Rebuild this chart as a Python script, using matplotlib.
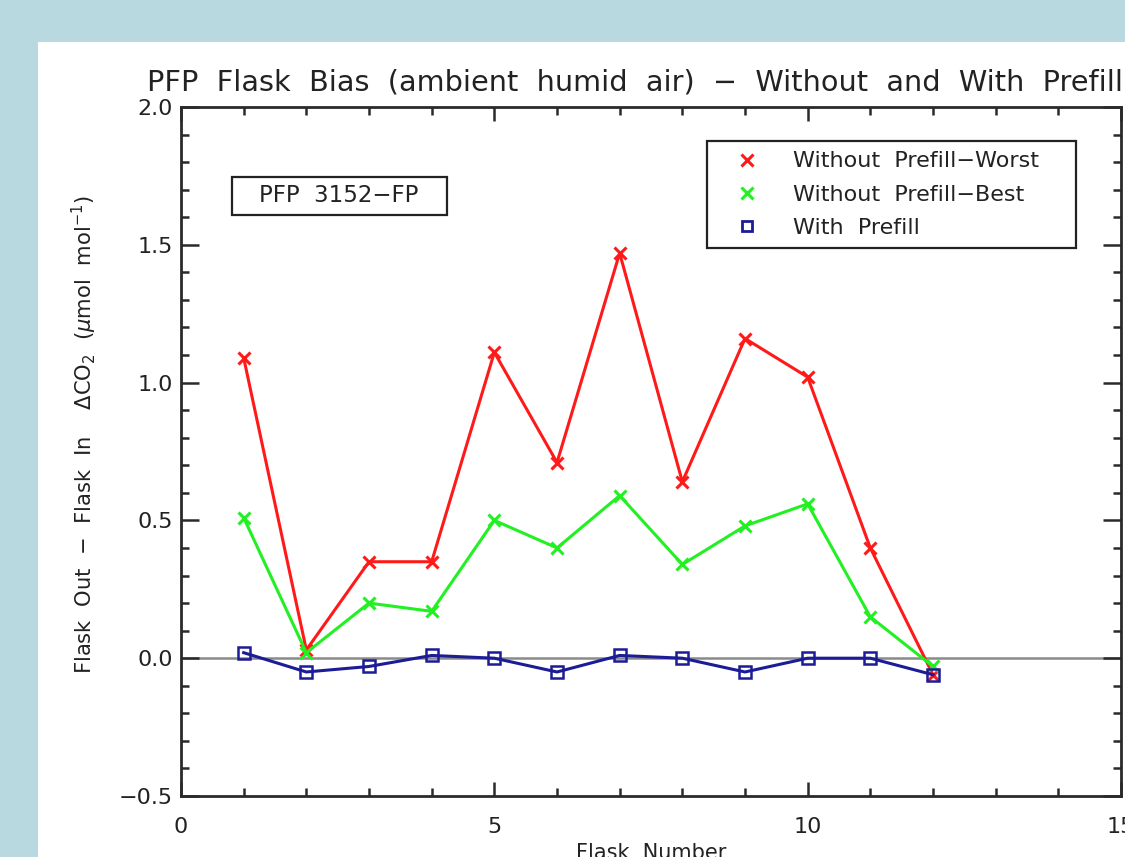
import matplotlib
matplotlib.use("Agg")
import matplotlib.pyplot as plt
from matplotlib.patches import Rectangle
from matplotlib.lines import Line2D
from matplotlib.ticker import MultipleLocator

# Flask bias data (CO2, umol/mol) per flask number
flask_number = [1, 2, 3, 4, 5, 6, 7, 8, 9, 10, 11, 12]
worst_no_prefill = [1.09, 0.03, 0.35, 0.35, 1.11, 0.71, 1.47, 0.64, 1.16, 1.02, 0.40, -0.06]
best_no_prefill = [0.51, 0.02, 0.20, 0.17, 0.50, 0.40, 0.59, 0.34, 0.48, 0.56, 0.15, -0.03]
with_prefill = [0.02, -0.05, -0.03, 0.01, 0.00, -0.05, 0.01, 0.00, -0.05, 0.00, 0.00, -0.06]

series_labels = ["Without  Prefill\u2212Worst", "Without  Prefill\u2212Best", "With  Prefill"]
x_ticks = [0, 5, 10, 15]
y_ticks = [-0.5, 0.0, 0.5, 1.0, 1.5, 2.0]

plt.rcParams['font.family'] = ['DejaVu Sans']

W, H = 1125, 857
fig = plt.figure(figsize=(W / 100, H / 100), dpi=100)
fig.patch.set_facecolor('#b8d9e0')

# white slide panel
fig.patches.append(Rectangle((38 / W, 0), 1 - 38 / W, (H - 42) / H,
                             transform=fig.transFigure, facecolor='white',
                             edgecolor='none', zorder=-5))

ax = fig.add_axes([181 / W, (H - 796) / H, (1121 - 181) / W, (796 - 107) / H])
ax.set_zorder(2)
ax.set_facecolor('white')

red = '#ff1a1a'
green = '#22f022'
blue = '#1c1c96'

ax.axhline(0, color='#8a8a8a', lw=1.8, zorder=1)
ax.plot(flask_number, worst_no_prefill, color=red, lw=2.2, marker='x',
        ms=9, mew=2.2, zorder=3)
ax.plot(flask_number, best_no_prefill, color=green, lw=2.2, marker='x',
        ms=9, mew=2.2, zorder=3)
ax.plot(flask_number, with_prefill, color=blue, lw=2.2, marker='s',
        ms=8.5, mew=1.8, mfc='none', zorder=4)

ax.set_xlim(0, 15)
ax.set_ylim(-0.5, 2.0)
ax.set_xticks(x_ticks)
ax.set_yticks(y_ticks)
ax.set_yticklabels(['\u22120.5', '0.0', '0.5', '1.0', '1.5', '2.0'])
ax.xaxis.set_minor_locator(MultipleLocator(1))
ax.yaxis.set_minor_locator(MultipleLocator(0.1))

for s in ax.spines.values():
    s.set_linewidth(2.0)
    s.set_color('#2a2a2a')

ax.tick_params(which='both', direction='in', top=True, right=True,
               color='#2a2a2a', width=1.8, labelsize=16, labelcolor='#222222')
ax.tick_params(axis='y', which='major', length=13, pad=6)
ax.tick_params(axis='y', which='minor', length=6)
ax.tick_params(axis='x', which='major', length=10, pad=15)
ax.tick_params(axis='x', which='minor', length=6)

ax.set_ylabel('Flask  Out  \u2212  Flask  In    \u0394CO$_2$  ($\\mu$mol  mol$^{-1}$)',
              fontsize=15.2, color='#222222')
ax.yaxis.set_label_coords(-0.087, 0.524)

fig.text(147 / W, (H - 83) / H,
         'PFP  Flask  Bias  (ambient  humid  air)  \u2212  Without  and  With  Prefill',
         fontsize=20.7, color='#222222', ha='left', va='center')
fig.text(651 / W, (H - 843) / H, 'Flask  Number', fontsize=15,
         color='#222222', ha='center', va='top')

# instrument label box
ax.add_patch(Rectangle(((232 - 181) / 940, (796 - 215) / 689), 215 / 940, 38 / 689,
                       transform=ax.transAxes, facecolor='white',
                       edgecolor='#222222', lw=1.6, zorder=5))
ax.text((339 - 181) / 940, (796 - 196) / 689, 'PFP  3152\u2212FP', transform=ax.transAxes,
        fontsize=16.5, ha='center', va='center', color='#222222', zorder=6)

handles = [
    Line2D([], [], ls='none', marker='x', color=red, ms=8, mew=2.2),
    Line2D([], [], ls='none', marker='x', color=green, ms=8, mew=2.2),
    Line2D([], [], ls='none', marker='s', color=blue, ms=7, mew=2.0, mfc='none'),
]
leg = ax.legend(handles, series_labels, loc='upper left', mode='expand',
                bbox_to_anchor=((707 - 181) / 940, (796 - 142) / 689,
                                (1076 - 707) / 940, 0.001),
                fontsize=16, frameon=True, fancybox=False, framealpha=1,
                edgecolor='#222222', handlelength=2.7, handletextpad=0.72,
                labelspacing=0.6, borderpad=0.45, borderaxespad=0)
leg.get_frame().set_linewidth(1.6)
for t in leg.get_texts():
    t.set_color('#222222')

fig.savefig('out.png', dpi=100, facecolor=fig.get_facecolor())
